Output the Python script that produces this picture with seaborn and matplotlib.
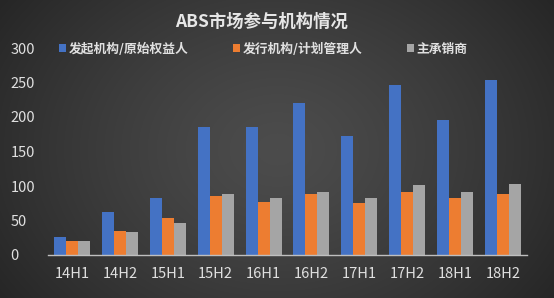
import numpy as np
import pandas as pd
import matplotlib
matplotlib.use("Agg")
import matplotlib.pyplot as plt
import seaborn as sns
from matplotlib.patches import Patch

categories = ["14H1", "14H2", "15H1", "15H2", "16H1", "16H2", "17H1", "17H2", "18H1", "18H2"]
series_names = ["发起机构/原始权益人", "发行机构/计划管理人", "主承销商"]
originators = [26, 63, 82, 186, 185, 221, 173, 246, 195, 253]
issuers = [21, 35, 54, 85, 77, 88, 76, 91, 82, 89]
underwriters = [21, 34, 46, 89, 83, 92, 82, 102, 92, 103]
title = "ABS市场参与机构情况"
yticks = [0, 50, 100, 150, 200, 250, 300]

df = pd.DataFrame({
    "cat": categories * 3,
    "series": [series_names[0]] * 10 + [series_names[1]] * 10 + [series_names[2]] * 10,
    "value": originators + issuers + underwriters,
})

sns.set_theme(style="white")
plt.rcParams["font.family"] = ["Noto Sans CJK SC", "DejaVu Sans"]

W, H = 554, 298
fig = plt.figure(figsize=(W / 100, H / 100), dpi=100)

# radial gradient background
bg = fig.add_axes([0, 0, 1, 1], zorder=-10)
yy, xx = np.mgrid[0:H, 0:W]
cx, cy = W * 0.5, H * 0.5
r = np.sqrt(((xx - cx) / (W * 0.62)) ** 2 + ((yy - cy) / (H * 0.9)) ** 2)
r = np.clip(r, 0, 1)
lum = (0x4c - (0x4c - 0x25) * r ** 1.3) / 255.0
img = np.dstack([lum, lum, lum])
bg.imshow(img, aspect="auto", extent=[0, 1, 0, 1], origin="upper")
bg.axis("off")

ax = fig.add_axes([48 / W, 1 - 255 / H, (527 - 48) / W, (255 - 48) / H])
ax.patch.set_alpha(0)
palette = ["#4472C4", "#ED7D31", "#A5A5A5"]
sns.barplot(data=df, x="cat", y="value", hue="series", palette=palette,
            width=0.75, gap=0, saturation=1, ax=ax, legend=False,
            linewidth=0, edgecolor="none")

ax.set_ylim(0, 300)
ax.set_yticks(yticks)
ax.set_xlim(-0.5, len(categories) - 0.5)
ax.set_xlabel("")
ax.set_ylabel("")
for s in ["top", "right", "left"]:
    ax.spines[s].set_visible(False)
ax.spines["bottom"].set_color("#bfbfbf")
ax.spines["bottom"].set_linewidth(1.0)
ax.tick_params(axis="both", length=0, colors="#e0e0e0", labelsize=10.5)
ax.tick_params(axis="x", pad=9)
for lbl in ax.get_yticklabels():
    lbl.set_horizontalalignment("left")
ax.yaxis.set_tick_params(pad=27)
ax.grid(False)

fig.text(262 / W, 1 - 22 / H, title, ha="center", va="center", color="#e6e6e6",
         fontsize=12.5, fontweight="bold")

handles = [Patch(facecolor=c, edgecolor="none") for c in palette]
leg = fig.legend(handles, series_names, loc="center left", bbox_to_anchor=(47 / W, 1 - 49 / H),
                 ncol=3, frameon=False, prop={"size": 9.2, "weight": "bold"},
                 handlelength=0.55, handleheight=0.55,
                 handletextpad=0.25, columnspacing=3.45, labelcolor="#e0e0e0")

fig.savefig("out.png", dpi=100)
